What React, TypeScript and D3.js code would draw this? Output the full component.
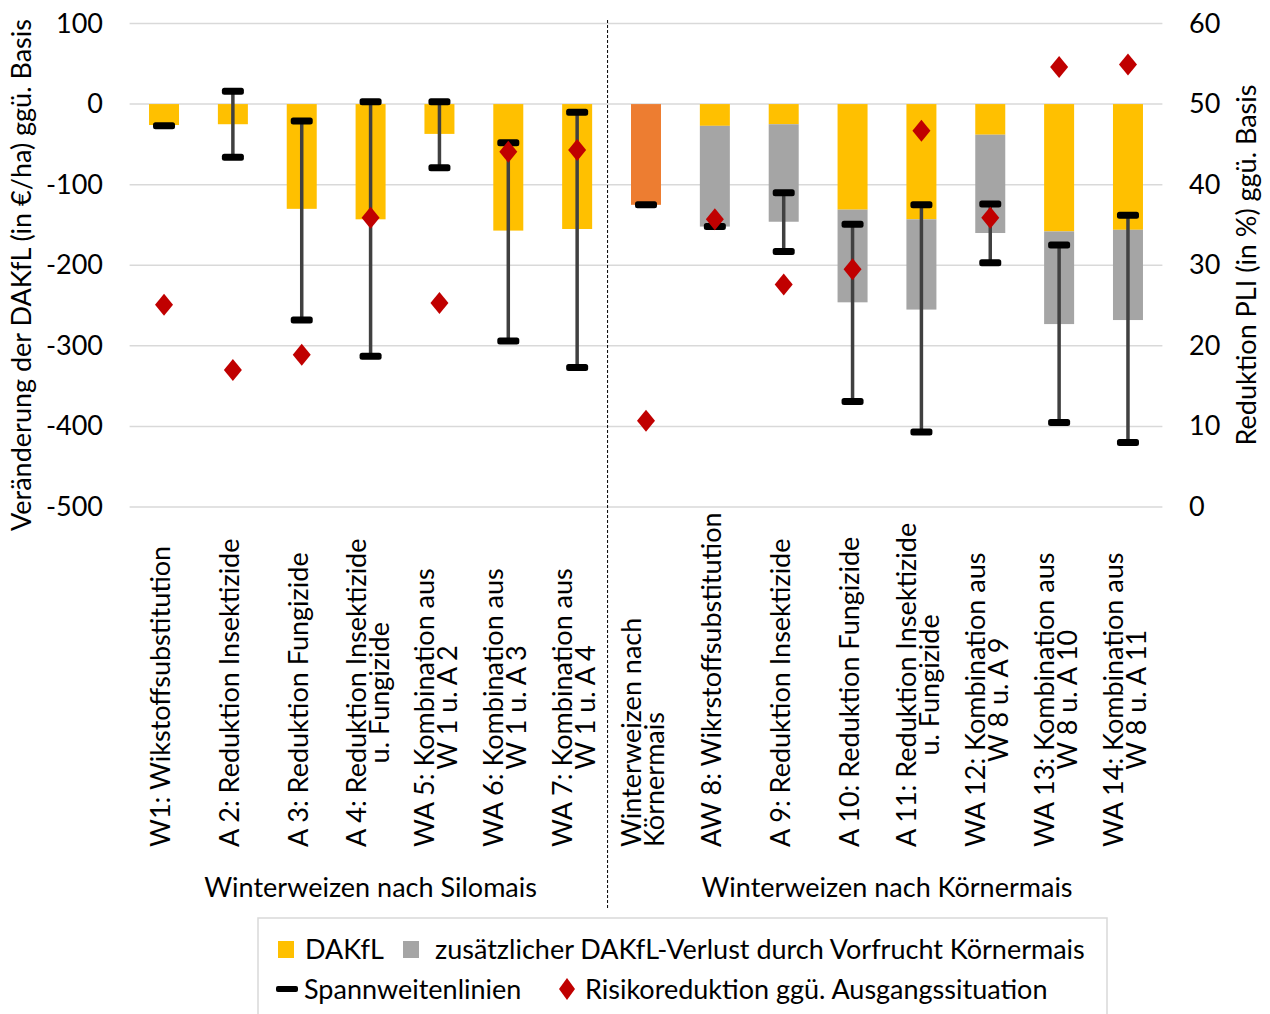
import { useEffect, useRef } from 'react'
import * as d3 from 'd3'

// category labels (line 1, line 2)
const labels: string[][] = [
  ['W1: Wikstoffsubstitution'],
  ['A 2: Reduktion Insektizide'],
  ['A 3: Reduktion Fungizide'],
  ['A 4: Reduktion Insektizide', 'u. Fungizide'],
  ['WA 5: Kombination aus', 'W 1 u. A 2'],
  ['WA 6:  Kombination aus', 'W 1 u. A 3'],
  ['WA 7: Kombination aus', 'W 1 u. A 4'],
  ['Winterweizen nach', 'Körnermais'],
  ['AW 8: Wikrstoffsubstitution'],
  ['A 9: Reduktion Insektizide'],
  ['A 10: Reduktion Fungizide'],
  ['A 11: Reduktion Insektizide', 'u. Fungizide'],
  ['WA 12: Kombination aus', 'W 8 u. A 9'],
  ['WA 13: Kombination aus', 'W 8 u. A 10'],
  ['WA 14: Kombination aus', 'W 8 u. A 11'],
]
const groups = ['Winterweizen nach Silomais', 'Winterweizen nach Körnermais']
const groupSizes = [7, 8]
const basisIndex = 7 // Ausgangssituation Körnermais

const dakfl = [-26, -25, -130, -143, -37, -157, -155, -125, -27, -25, -131, -143, -38, -158, -156]
const extraLoss = [0, 0, 0, 0, 0, 0, 0, 0, -125, -121, -115, -112, -122, -115, -112]
const rangeHigh = [-27, 16, -21, 3, 3, -48, -10, -125, -152, -110, -149, -125, -124, -175, -138]
const rangeLow = [-27, -66, -268, -313, -79, -294, -327, -125, -152, -183, -369, -407, -197, -395, -420]
const risk = [25.1, 17.0, 18.9, 35.9, 25.3, 44.1, 44.3, 10.7, 35.7, 27.6, 29.5, 46.7, 35.9, 54.6, 54.9]

const leftTicks = [100, 0, -100, -200, -300, -400, -500]
const rightTicks = [60, 50, 40, 30, 20, 10, 0]

const FONT = 'Lato, "Liberation Sans", sans-serif'
const YELLOW = '#FFC000'
const GRAY = '#A5A5A5'
const ORANGE = '#ED7D31'
const RED = '#C00000'

export default function App() {
  const ref = useRef<SVGSVGElement>(null)

  useEffect(() => {
    if (!ref.current) return
    const svg = d3.select(ref.current)
    svg.selectAll('*').remove()

    const left = 129.6, right = 1162.4, top = 23.5, bottom = 507
    const y = d3.scaleLinear().domain([-500, 100]).range([bottom, top])
    const yR = d3.scaleLinear().domain([0, 60]).range([bottom, top])
    const x = d3.scaleBand<number>().domain(d3.range(labels.length)).range([left, right])
    const bw = 30

    // gridlines
    svg.append('g').selectAll('line').data(leftTicks).join('line')
      .attr('x1', left).attr('x2', right)
      .attr('y1', d => y(d)).attr('y2', d => y(d))
      .attr('stroke', '#D9D9D9').attr('stroke-width', 1.5)

    // tick labels
    svg.append('g').selectAll('text').data(leftTicks).join('text')
      .attr('x', 103).attr('y', d => y(d) + 9)
      .attr('text-anchor', 'end')
      .attr('font-family', FONT).attr('font-size', 27).attr('fill', '#000')
      .text(d => d)
    svg.append('g').selectAll('text').data(rightTicks).join('text')
      .attr('x', 1189).attr('y', d => yR(d) + 9)
      .attr('font-family', FONT).attr('font-size', 27).attr('fill', '#000')
      .text(d => d)

    // axis titles
    svg.append('text')
      .attr('transform', 'translate(31,275) rotate(-90)')
      .attr('text-anchor', 'middle')
      .attr('font-family', FONT).attr('font-size', 27)
      .text('Veränderung der DAKfL (in €/ha) ggü. Basis')
    svg.append('text')
      .attr('transform', 'translate(1256,265) rotate(-90)')
      .attr('text-anchor', 'middle')
      .attr('font-family', FONT).attr('font-size', 27)
      .text('Reduktion PLI (in %) ggü. Basis')

    const cx = (i: number) => x(i)! + x.bandwidth() / 2

    // bars
    svg.append('g').selectAll('rect').data(dakfl).join('rect')
      .attr('x', (_, i) => cx(i) - bw / 2)
      .attr('width', bw)
      .attr('y', y(0))
      .attr('height', d => y(d) - y(0))
      .attr('fill', (_, i) => i === basisIndex ? ORANGE : YELLOW)
    svg.append('g').selectAll('rect').data(extraLoss).join('rect')
      .attr('x', (_, i) => cx(i) - bw / 2)
      .attr('width', bw)
      .attr('y', (_, i) => y(dakfl[i]))
      .attr('height', (d, i) => y(dakfl[i] + d) - y(dakfl[i]))
      .attr('fill', GRAY)

    // range lines
    const eg = svg.append('g')
    rangeHigh.forEach((hi, i) => {
      const lo = rangeLow[i]
      if (hi !== lo) {
        eg.append('line')
          .attr('x1', cx(i)).attr('x2', cx(i))
          .attr('y1', y(hi)).attr('y2', y(lo))
          .attr('stroke', '#404040').attr('stroke-width', 3.5)
      }
      const caps = hi === lo ? [hi] : [hi, lo]
      caps.forEach(v => {
        eg.append('rect')
          .attr('x', cx(i) - 11).attr('y', y(v) - 3.5)
          .attr('width', 22).attr('height', 7).attr('rx', 2.5)
          .attr('fill', '#000')
      })
    })

    // diamonds
    const diamond = 'M0,-11L9,0L0,11L-9,0Z'
    svg.append('g').selectAll('path').data(risk).join('path')
      .attr('d', diamond)
      .attr('transform', (d, i) => `translate(${cx(i)},${yR(d)})`)
      .attr('fill', RED)

    // category labels
    labels.forEach((lines, i) => {
      const g = svg.append('g').attr('transform', `translate(${cx(i)},847) rotate(-90)`)
      if (lines.length === 1) {
        g.append('text').attr('x', 0).attr('y', 6)
          .attr('font-family', FONT).attr('font-size', 27).text(lines[0])
      } else {
        const t1 = g.append('text').attr('x', 0).attr('y', -5)
          .attr('font-family', FONT).attr('font-size', 27).text(lines[0])
        const len = (t1.node() as SVGTextElement).getComputedTextLength()
        const t2 = g.append('text').attr('y', 18)
          .attr('font-family', FONT).attr('font-size', 27).text(lines[1])
        if (i === basisIndex) t2.attr('x', 0)
        else t2.attr('x', len / 2).attr('text-anchor', 'middle')
      }
    })

    // group labels + divider
    let start = 0
    groups.forEach((gName, gi) => {
      const n = groupSizes[gi]
      const gx = (x(start)! + x(start + n - 1)! + x.bandwidth()) / 2
      svg.append('text').attr('x', gx).attr('y', 897)
        .attr('text-anchor', 'middle')
        .attr('font-family', FONT).attr('font-size', 27).text(gName)
      start += n
    })
    const divX = x(groupSizes[0])! - 4
    svg.append('line')
      .attr('x1', divX).attr('x2', divX).attr('y1', 20).attr('y2', 910)
      .attr('stroke', '#000').attr('stroke-width', 1).attr('stroke-dasharray', '3,2')

    // legend
    const lg = svg.append('g')
    lg.append('rect').attr('x', 258).attr('y', 918).attr('width', 849).attr('height', 110)
      .attr('fill', '#fff').attr('stroke', '#D9D9D9').attr('stroke-width', 1.5)
    lg.append('rect').attr('x', 278).attr('y', 941).attr('width', 16).attr('height', 17).attr('fill', YELLOW)
    lg.append('text').attr('x', 305).attr('y', 959).attr('font-family', FONT).attr('font-size', 27).text('DAKfL')
    lg.append('rect').attr('x', 403).attr('y', 941).attr('width', 16).attr('height', 17).attr('fill', GRAY)
    lg.append('text').attr('x', 435).attr('y', 959).attr('font-family', FONT).attr('font-size', 27)
      .text('zusätzlicher DAKfL-Verlust durch Vorfrucht Körnermais')
    lg.append('rect').attr('x', 276).attr('y', 986).attr('width', 22).attr('height', 6).attr('rx', 2).attr('fill', '#000')
    lg.append('text').attr('x', 304).attr('y', 999).attr('font-family', FONT).attr('font-size', 27).text('Spannweitenlinien')
    lg.append('path').attr('d', 'M0,-11L8,0L0,11L-8,0Z').attr('transform', 'translate(567,989)').attr('fill', RED)
    lg.append('text').attr('x', 585).attr('y', 999).attr('font-family', FONT).attr('font-size', 27)
      .text('Risikoreduktion ggü. Ausgangssituation')
  }, [])

  return (
    <svg ref={ref} width={1270} height={1014}
      style={{ position: 'absolute', left: 0, top: 0, background: '#fff' }} />
  )
}
